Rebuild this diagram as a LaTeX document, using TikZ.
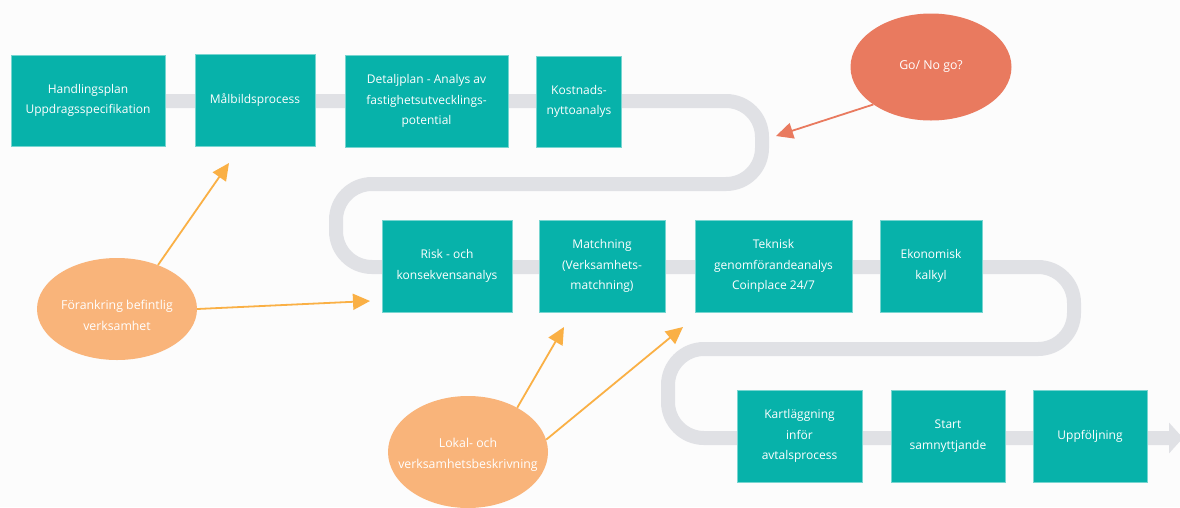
\documentclass[tikz,border=0pt]{standalone}
\usepackage{fontspec}
\setmainfont{Open Sans}
\usetikzlibrary{shapes.geometric,arrows.meta}
\definecolor{tealbox}{HTML}{07B2AA}
\definecolor{bandgray}{HTML}{E0E1E5}
\definecolor{orfill}{HTML}{F9B47A}
\definecolor{orarrow}{HTML}{FAB045}
\definecolor{redfill}{HTML}{E97A5F}
\begin{document}
\begin{tikzpicture}[x=1pt,y=-1pt,
  box/.style={fill=tealbox, draw=tealbox!55!white, line width=0.6pt, text=white, align=center,
    font=\fontsize{12}{20.5}\selectfont, inner sep=2pt},
  oval/.style={ellipse, inner sep=0pt},
  ovaltext/.style={text=white, align=center, font=\fontsize{12.3}{21}\selectfont, inner sep=0pt},
  band/.style={draw=bandgray, line width=14pt, rounded corners=36pt},
  orarr/.style={draw=orarrow, line width=1.8pt, -{Triangle[length=17pt,width=16pt]}},
  redarr/.style={draw=redfill, line width=1.8pt, -{Triangle[length=17pt,width=16pt]}}]
\useasboundingbox (0,0) rectangle (1180,507);
\fill[white!99!black] (0,0) rectangle (1180,507);
% band
\draw[band, -{Triangle[length=14pt,width=30pt]}] (165,101) -- (762,101) -- (762,184) -- (336,184) -- (336,267)
   -- (1074,267) -- (1074,349) -- (668,349) -- (668,438) -- (1183,438);
% row 1
\node[box, minimum width=154pt, minimum height=91pt] (b1) at (88,100.5) {Handlingsplan\\Uppdragsspecifikation};
\node[box, minimum width=120pt, minimum height=92pt] (b2) at (255,100) {Målbildsprocess};
\node[box, minimum width=163pt, minimum height=92pt] (b3) at (426.5,101) {Detaljplan - Analys av\\fastighetsutvecklings-\\potential};
\node[box, minimum width=85pt, minimum height=91pt] (b4) at (579,101.5) {Kostnads-\\nyttoanalys};
% row 2
\node[box, minimum width=130pt, minimum height=92pt] (c1) at (447,266) {Risk - och\\konsekvensanalys};
\node[box, minimum width=126pt, minimum height=92pt] (c2) at (602,266) {Matchning\\(Verksamhets-\\matchning)};
\node[box, minimum width=157pt, minimum height=92pt] (c3) at (773.5,266) {Teknisk\\genomförandeanalys\\Coinplace 24/7};
\node[box, minimum width=102pt, minimum height=92pt] (c4) at (931,266) {Ekonomisk\\kalkyl};
% row 3
\node[box, minimum width=125pt, minimum height=92pt] (d1) at (799.5,436) {Kartläggning\\inför\\avtalsprocess};
\node[box, minimum width=114pt, minimum height=92pt] (d2) at (948,436) {Start\\samnyttjande};
\node[box, minimum width=114pt, minimum height=92pt] (d3) at (1090,436) {Uppföljning};
% ellipses
\node[oval, fill=redfill, minimum width=161pt, minimum height=107pt,
  label={[ovaltext]center:Go/ No go?}] (go) at (931,67) {};
\node[oval, fill=orfill, minimum width=160pt, minimum height=102pt,
  label={[ovaltext, yshift=-6pt]center:{Förankring befintlig\\verksamhet}}] (fo) at (117,309) {};
\node[oval, fill=orfill, minimum width=160pt, minimum height=112pt,
  label={[ovaltext, yshift=-3pt]center:{Lokal- och\\verksamhetsbeskrivning}}] (lo) at (468,452) {};
% arrow targets
\coordinate (tgo) at (776,136);
\coordinate (tf1) at (229,163);
\coordinate (tf2) at (370,301);
\coordinate (tl1) at (564,327);
\coordinate (tl2) at (683,327);
\draw[redarr] (go.213) -- (tgo);
\draw[orarr] (fo.47) -- (tf1);
\draw[orarr] (fo.0) -- (tf2);
\draw[orarr] (lo.42) -- (tl1);
\draw[orarr] (lo.9) -- (tl2);
\end{tikzpicture}
\end{document}
